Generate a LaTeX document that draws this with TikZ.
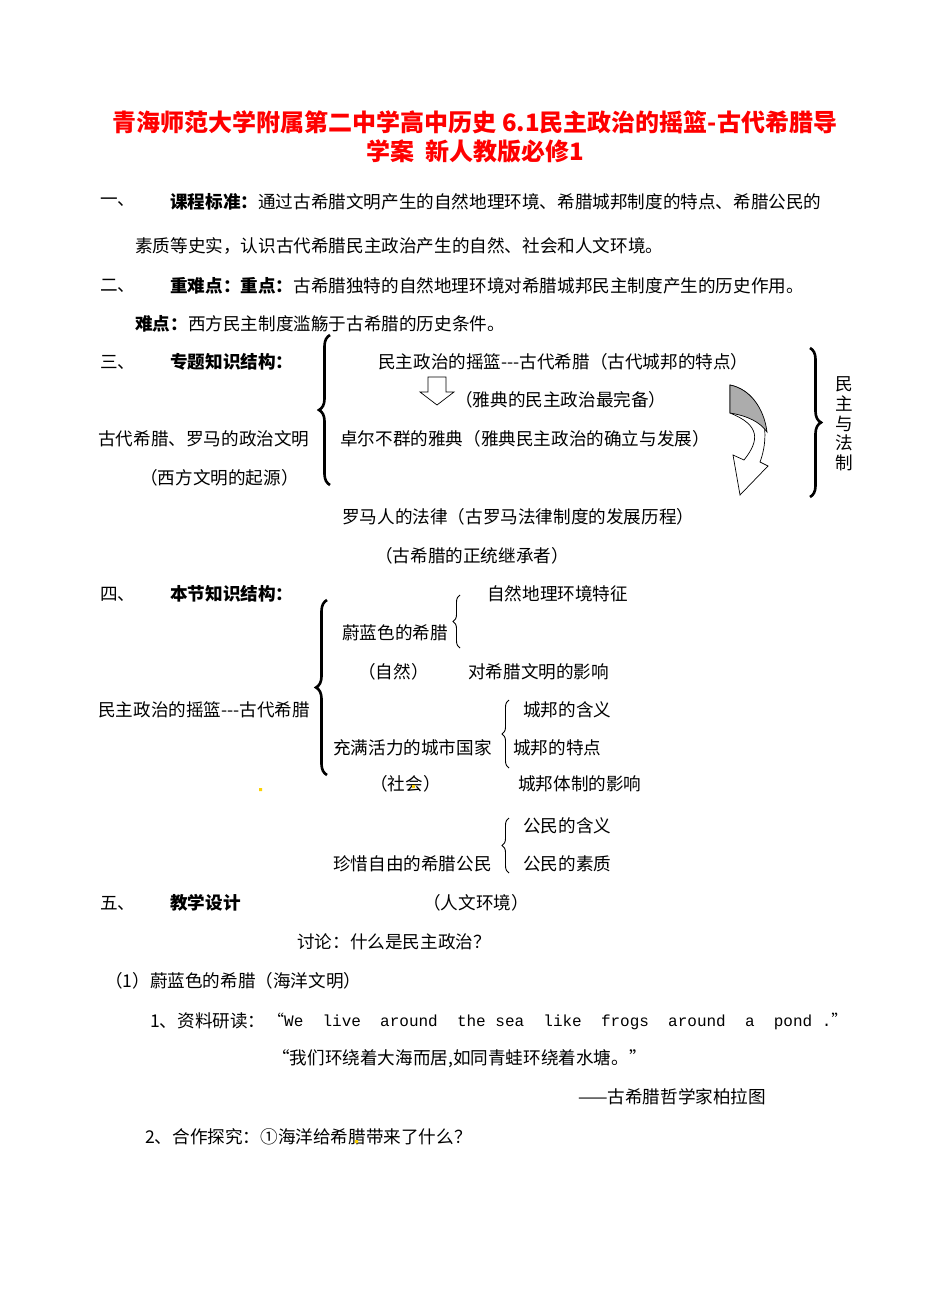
\documentclass[tikz,border=0pt]{standalone}
\usepackage{fontspec}
\setmainfont{Noto Sans CJK SC}
\newfontfamily\monof{Liberation Mono}
\usetikzlibrary{decorations.pathreplacing}
\newcommand{\thd}{{-}{-}{-}}
\begin{document}
\begin{tikzpicture}[x=1pt,y=-1pt,
  t/.style={anchor=west,inner sep=0pt,font=\fontsize{17.6}{17.6}\selectfont},
  ttl/.style={inner sep=0pt,font=\fontsize{24}{24}\selectfont\bfseries,text=red},
  bb/.style={decorate,decoration={brace,amplitude=11pt},line width=2.6pt},
  sb/.style={decorate,decoration={brace,amplitude=7pt},line width=0.9pt}]
\useasboundingbox (0,0) rectangle (950,1316);
\fill[white] (0,0) rectangle (950,1316);
\node[ttl] (ti1) at (475,122) {青海师范大学附属第二中学高中历史 6.1民主政治的摇篮-古代希腊导};
\node[ttl] (ti2) at (475,151) {学案\ \ 新人教版必修1};
\node[t] (n1) at (100,202) {一、};
\node[t] (n1b) at (170,202) {\textbf{课程标准：}通过古希腊文明产生的自然地理环境、希腊城邦制度的特点、希腊公民的};
\node[t] (n1c) at (135,246) {素质等史实，认识古代希腊民主政治产生的自然、社会和人文环境。};
\node[t] (n2) at (100,286) {二、};
\node[t] (n2b) at (170,286) {\textbf{重难点：重点：}古希腊独特的自然地理环境对希腊城邦民主制度产生的历史作用。};
\node[t] (n2c) at (135,324) {\textbf{难点：}西方民主制度滥觞于古希腊的历史条件。};
\node[t] (n3) at (100,362) {三、};
\node[t] (n3b) at (170,362) {\textbf{专题知识结构：}};
\draw[bb] (330,485) -- (330,335);
\draw[bb] (810,348) -- (810,497);
\node[t] (a1) at (378,362) {民主政治的摇篮\thd 古代希腊（古代城邦的特点）};
\draw[line width=0.7pt,fill=white] (428,377) -- (446,377) -- (446,392) -- (454,392) -- (437,405) -- (420,392) -- (428,392) -- cycle;
\node[t] (a2) at (455,400) {（雅典的民主政治最完备）};
\node[t] (a0) at (98,439) {古代希腊、罗马的政治文明};
\node[t] (a3) at (340,439) {卓尔不群的雅典（雅典民主政治的确立与发展）};
\node[t] (a0b) at (140,478) {（西方文明的起源）};
\draw[line width=0.7pt,fill=white] (730,385) .. controls (762,392) and (772,430) .. (760,462) -- (768,466) -- (740,495) -- (733,455) -- (744,460) .. controls (760,440) and (760,425) .. (730,413) -- cycle;
\draw[line width=0.7pt,fill=gray!65] (730,385) .. controls (750,389) and (764,408) .. (767,432) .. controls (760,422) and (748,416) .. (730,413) -- cycle;
\foreach \c [count=\i] in {民,主,与,法,制}
  \node[t,anchor=center] (v\i) at (844,365+19.5*\i) {\c};
\node[t] (a4) at (342,517) {罗马人的法律（古罗马法律制度的发展历程）};
\node[t] (a5) at (375,556) {（古希腊的正统继承者）};
\node[t] (n4) at (100,594) {四、};
\node[t] (n4b) at (170,594) {\textbf{本节知识结构：}};
\draw[bb] (327,775) -- (327,600);
\node[t] (b1) at (487,594) {自然地理环境特征};
\draw[sb] (460,648) -- (460,595);
\node[t] (b2) at (342,633) {蔚蓝色的希腊};
\node[t] (b3) at (358,672) {（自然）};
\node[t] (b4) at (468,672) {对希腊文明的影响};
\node[t] (b0) at (98,710) {民主政治的摇篮\thd 古代希腊};
\draw[sb] (509,768) -- (509,700);
\node[t] (c1) at (523,710) {城邦的含义};
\node[t] (c2) at (513,748) {城邦的特点};
\node[t] (c0) at (333,748) {充满活力的城市国家};
\node[t] (c3) at (370,784) {（社会）};
\node[t] (c4) at (518,784) {城邦体制的影响};
\draw[sb] (509,873) -- (509,818);
\node[t] (d1) at (523,826) {公民的含义};
\node[t] (d2) at (523,864) {公民的素质};
\node[t] (d0) at (333,864) {珍惜自由的希腊公民};
\node[t] (n5) at (100,903) {五、};
\node[t] (n5b) at (170,903) {\textbf{教学设计}};
\node[t] (n5c) at (423,903) {（人文环境）};
\node[t] (e1) at (297,942) {讨论：什么是民主政治？};
\node[t] (e2) at (105,981) {（1）蔚蓝色的希腊（海洋文明）};
\node[t] (e3) at (150,1021) {1、资料研读：};
\node[t,font=\fontsize{16}{16}\selectfont] (e3b) at (268,1021) {“{\monof We\ \ live\ \ around\ \ the sea\ \ like\ \ frogs\ \ around\ \ a\ \ pond .}”};
\node[t] (e4) at (272,1059) {“我们环绕着大海而居,如同青蛙环绕着水塘。”};
\node[t] (e5) at (578,1097) {——古希腊哲学家柏拉图};
\node[t] (e6) at (145,1137) {2、合作探究：①海洋给希腊带来了什么？};
\fill[yellow!70!orange] (259,788) rectangle (262,791) (412,785) rectangle (415,788) (355,1140) rectangle (358,1143);
\end{tikzpicture}
\end{document}
